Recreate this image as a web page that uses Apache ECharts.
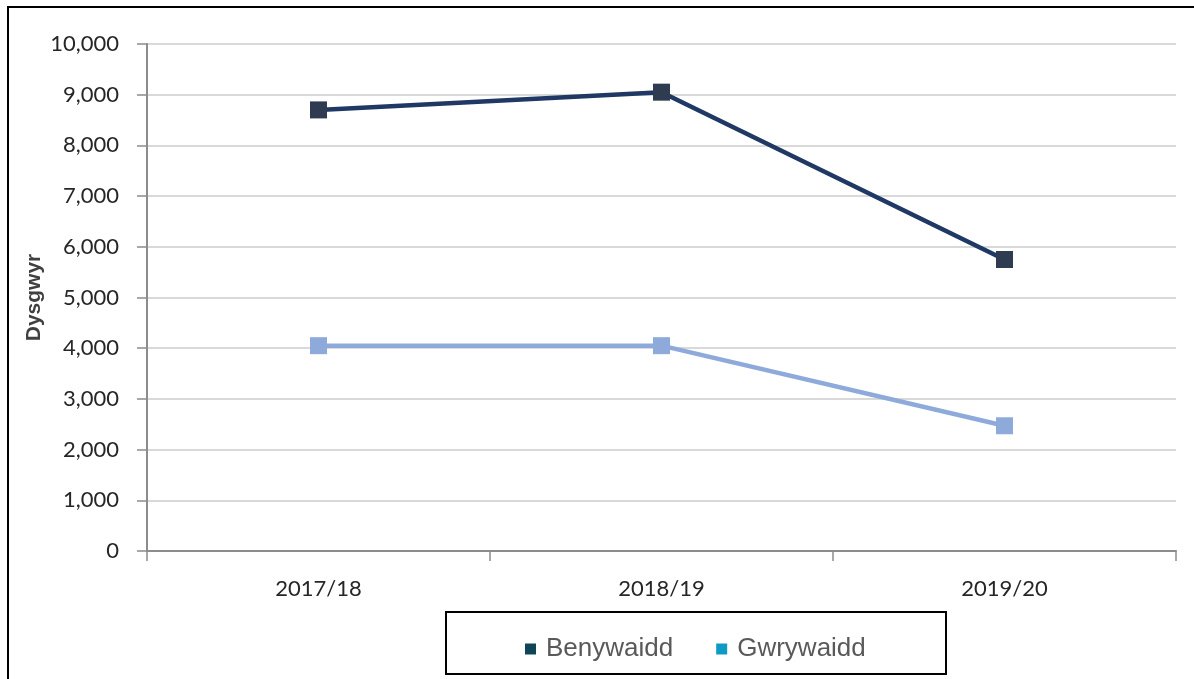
<!DOCTYPE html>
<html>
<head>
<meta charset="utf-8">
<script src="https://cdn.jsdelivr.net/npm/echarts@6/dist/echarts.min.js"></script>
<style>
  html, body { margin: 0; padding: 0; background: #fff; }
  #chart { width: 1194px; height: 679px; }
</style>
</head>
<body>
<div id="chart"></div>
<script>
// data
var years = ['2017/18', '2018/19', '2019/20'];
var benywaidd = [8700, 9050, 5750];
var gwrywaidd = [4050, 4050, 2470];
var yTicks = { min: 0, max: 10000, interval: 1000 };

var chart = echarts.init(document.getElementById('chart'));

var option = {
    backgroundColor: '#fff',
    animation: false,
    graphic: [
        // outer frame
        { type: 'rect', shape: { x: 8, y: 7, width: 1200, height: 700 },
          style: { fill: 'none', stroke: '#000', lineWidth: 2 }, silent: true },
        // legend box
        { type: 'rect', shape: { x: 446, y: 612, width: 500, height: 62 },
          style: { fill: '#fff', stroke: '#000', lineWidth: 2 }, silent: true, z: 1 }
    ],
    grid: { left: 147, right: 18, top: 44, bottom: 128 },
    legend: {
        left: 520,
        top: 631,
        itemWidth: 21,
        itemHeight: 11,
        itemGap: 43,
        icon: 'path://M0,0H10V10H0Z',
        z: 5,
        textStyle: { fontFamily: 'Liberation Sans', fontSize: 26, color: '#595959' },
        data: [
            { name: 'Benywaidd', itemStyle: { color: '#0e4657' } },
            { name: 'Gwrywaidd', itemStyle: { color: '#0e9ac3' } }
        ]
    },
    xAxis: {
        type: 'category',
        data: years,
        boundaryGap: true,
        axisLine: { lineStyle: { color: '#8c8c8c', width: 2 } },
        axisTick: { show: true, length: 10, lineStyle: { color: '#8c8c8c', width: 1.5 } },
        axisLabel: { fontFamily: 'Lato', fontSize: 22, color: '#262626', margin: 27 }
    },
    yAxis: {
        type: 'value',
        min: yTicks.min,
        max: yTicks.max,
        interval: yTicks.interval,
        name: 'Dysgwyr',
        nameLocation: 'middle',
        nameGap: 102,
        nameMoveOverlap: false,
        nameTextStyle: { fontFamily: 'Liberation Sans', fontWeight: 'bold', fontSize: 21, color: '#404040' },
        axisLine: { show: true, lineStyle: { color: '#8c8c8c', width: 2 } },
        axisTick: { show: true, length: 10, lineStyle: { color: '#8c8c8c', width: 1.5 } },
        axisLabel: {
            fontFamily: 'Lato', fontSize: 22, color: '#262626', margin: 28,
            formatter: function (v) { return v.toLocaleString('en-GB'); }
        },
        splitLine: { lineStyle: { color: '#d9d9d9', width: 2 } }
    },
    series: [
        {
            name: 'Benywaidd',
            type: 'line',
            data: benywaidd,
            symbol: 'rect',
            symbolSize: 17,
            lineStyle: { color: '#1f3864', width: 4.5 },
            itemStyle: { color: '#2e3b50' }
        },
        {
            name: 'Gwrywaidd',
            type: 'line',
            data: gwrywaidd,
            symbol: 'rect',
            symbolSize: 17,
            lineStyle: { color: '#8eaadb', width: 4.5 },
            itemStyle: { color: '#8eaadb' }
        }
    ]
};

chart.setOption(option);
</script>
</body>
</html>
